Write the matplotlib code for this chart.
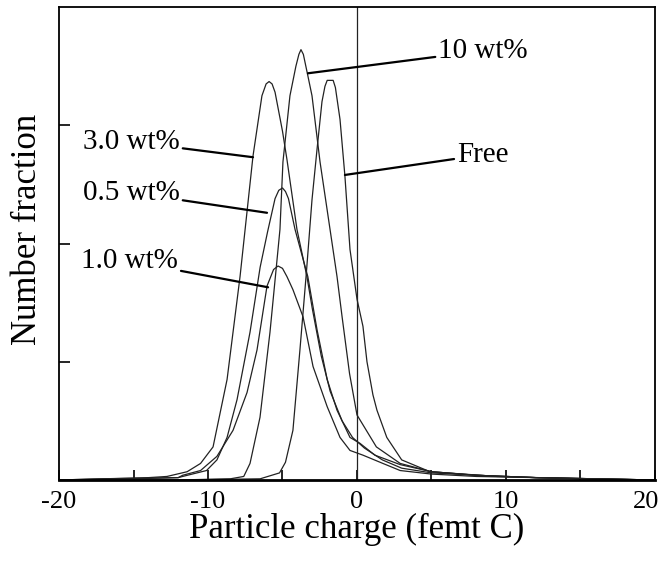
import matplotlib.pyplot as plt
import matplotlib.transforms as mtransforms
from matplotlib.ticker import FixedLocator, FuncFormatter

plt.rcParams['font.family'] = ['Liberation Serif', 'DejaVu Serif']

# curves: (charge, number fraction in tick units)
free_x = [-20, -12, -6.5, -5.2, -4.8, -4.3, -3.83, -3.4, -3.02, -2.68, -2.35, -2.15, -2.0, -1.6, -1.45,
          -1.14, -0.81, -0.47, 0.0, 0.4, 0.67, 1.07, 1.34, 2.0, 3.0, 4.9, 9.4, 15, 20]
free_y = [0.0, 0.0, 0.01, 0.06, 0.15, 0.42, 1.1, 1.75, 2.37, 2.8, 3.2, 3.33, 3.38, 3.38, 3.32,
          3.05, 2.57, 1.95, 1.53, 1.3, 1.0, 0.72, 0.59, 0.36, 0.17, 0.07, 0.03, 0.01, 0.0]

wt10_x = [-20, -12, -8.5, -7.6, -7.18, -6.51, -5.84, -5.3, -5.17, -4.97, -4.5, -4.1, -3.9, -3.76, -3.6,
          -3.3, -3.02, -2.48, -1.81, -1.34, -1.0, -0.5, 0.0, 1.3, 2.9, 5, 8, 12, 20]
wt10_y = [0.0, 0.0, 0.01, 0.03, 0.14, 0.53, 1.25, 1.95, 2.12, 2.69, 3.25, 3.5, 3.6, 3.64, 3.6,
          3.42, 3.25, 2.69, 2.12, 1.72, 1.38, 0.9, 0.55, 0.28, 0.14, 0.07, 0.04, 0.02, 0.0]

wt30_x = [-20, -17, -14, -12.75, -11.4, -10.5, -9.66, -8.72, -7.85, -6.98, -6.38, -6.1, -5.9, -5.7,
          -5.5, -5.0, -4.7, -4.03, -3.36, -3.0, -2.4, -1.8, -1.0, -0.3, 0.5, 1.7, 3.0, 5, 8, 12, 16, 20]
wt30_y = [0.0, 0.01, 0.02, 0.03, 0.07, 0.14, 0.28, 0.85, 1.72, 2.74, 3.25, 3.35, 3.37, 3.35,
          3.28, 2.95, 2.71, 2.12, 1.72, 1.45, 1.05, 0.75, 0.5, 0.36, 0.27, 0.17, 0.1, 0.06, 0.04, 0.02, 0.01, 0.0]

wt05_x = [-20, -15, -12, -11.7, -10.1, -9.4, -8.72, -8.05, -7.18, -6.5, -6.0, -5.5, -5.25, -5.0,
          -4.8, -4.6, -4.16, -3.3, -2.68, -2.0, -1.34, -0.47, 0.2, 1.2, 2.9, 5, 8, 12, 20]
wt05_y = [0.0, 0.01, 0.02, 0.03, 0.08, 0.17, 0.36, 0.68, 1.25, 1.8, 2.1, 2.38, 2.45, 2.47,
          2.44, 2.38, 2.12, 1.72, 1.27, 0.85, 0.59, 0.36, 0.31, 0.21, 0.13, 0.07, 0.04, 0.02, 0.0]

wt10b_x = [-20, -17, -12, -11.7, -10.5, -9.4, -8.32, -7.38, -6.71, -6.04, -5.6, -5.3, -5.0, -4.7,
           -4.3, -3.62, -2.95, -2.0, -1.14, -0.47, 0.4, 1.74, 2.9, 5, 8, 12, 20]
wt10b_y = [0.0, 0.01, 0.02, 0.04, 0.08, 0.2, 0.42, 0.74, 1.1, 1.64, 1.78, 1.81, 1.79, 1.72,
           1.61, 1.38, 0.96, 0.62, 0.36, 0.25, 0.21, 0.14, 0.08, 0.05, 0.03, 0.02, 0.0]

# labels: text, text anchor, pointer end
labels = ["3.0 wt%", "0.5 wt%", "1.0 wt%", "10 wt%", "Free"]
label_xy = [(-11.88, 2.86), (-11.88, 2.43), (-12.0, 1.85), (5.44, 3.63), (6.7, 2.75)]
point_xy = [(-6.98, 2.73), (-6.04, 2.26), (-5.97, 1.63), (-3.29, 3.44), (-0.81, 2.58)]

fig = plt.figure(figsize=(6.6, 5.61), dpi=100)
ax = fig.add_axes([0.0894, 0.1444, 0.903, 0.843])

for xs, ys in [(free_x, free_y), (wt10_x, wt10_y), (wt30_x, wt30_y),
               (wt05_x, wt05_y), (wt10b_x, wt10b_y)]:
    ax.plot(xs, ys, color='#222222', lw=0.9)

ax.axvline(0, color='#222222', lw=0.9)

for txt, (tx, ty), (px, py) in zip(labels, label_xy, point_xy):
    ax.annotate(txt, xy=(px, py), xytext=(tx, ty), fontsize=21,
                ha='right' if tx < 0 else 'left', va='center',
                arrowprops=dict(arrowstyle='-', color='black', lw=1.6,
                                shrinkA=0, shrinkB=0))

ax.set_xlim(-20, 20)
ax.set_ylim(0, 4.0)
ax.xaxis.set_major_locator(FixedLocator([-20, -15, -10, -5, 0, 5, 10, 15, 20]))
ax.xaxis.set_major_formatter(FuncFormatter(lambda v, p: f"{v:.0f}" if v % 10 == 0 else ""))
ax.yaxis.set_major_locator(FixedLocator([1, 2, 3]))
ax.set_yticklabels([])
ax.tick_params(axis='x', direction='in', length=7, width=1.2, labelsize=19, pad=8)
ax.tick_params(axis='y', direction='in', length=8, width=1.2)
for s in ax.spines.values():
    s.set_linewidth(1.3)
ax.spines['bottom'].set_linewidth(2)

ax.set_xlabel("Particle charge (femt C)", fontsize=25, labelpad=0)
ax.set_ylabel("Number fraction", fontsize=25)
ax.yaxis.set_label_coords(-0.025, 0.53)

# keep the "20" inside the picture
fig.canvas.draw()
last = ax.get_xticklabels()[-1]
last.set_transform(last.get_transform() + mtransforms.ScaledTranslation(-0.09, 0, fig.dpi_scale_trans))

fig.savefig("out.png", dpi=100)
